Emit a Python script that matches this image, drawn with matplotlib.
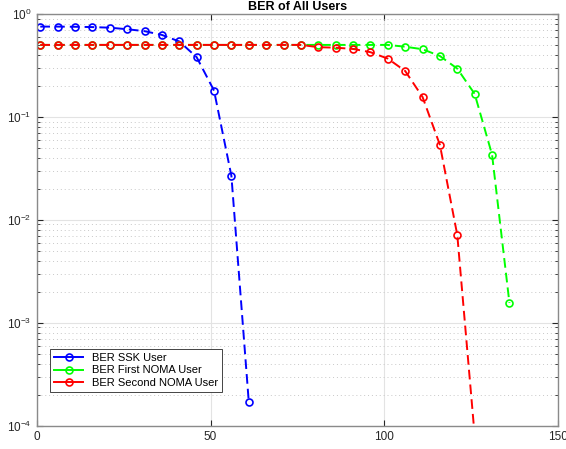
import numpy as np
import matplotlib.pyplot as plt
from matplotlib.ticker import LogLocator, NullFormatter, FuncFormatter

plt.rcParams['font.family'] = ['Liberation Sans', 'DejaVu Sans']

# data
snr = np.arange(1, 137, 5)

ber_ssk = [0.753, 0.753, 0.75, 0.745, 0.735, 0.71, 0.68, 0.625, 0.54, 0.38,
           0.18, 0.0267, 1.7e-4]
ber_noma1 = [0.5] * 21 + [0.48, 0.454, 0.39, 0.294, 0.167, 0.043, 0.00156]
ber_noma2 = [0.5] * 16 + [0.475, 0.47, 0.457, 0.425, 0.368, 0.279, 0.156,
                          0.0533, 0.0071, 8e-5]
labels = ['BER SSK User', 'BER First NOMA User', 'BER Second NOMA User']

fig = plt.figure(figsize=(5.66, 4.49), dpi=100)
ax = fig.add_axes([0.065, 0.052, 0.921, 0.917])

dash = (0, (5, 2.6))
kw = dict(linestyle=dash, linewidth=1.4, marker='o', markersize=5,
          markerfacecolor='none', markeredgewidth=1.2)
ax.semilogy(snr[:len(ber_ssk)], ber_ssk, color='#0000ff', label=labels[0], **kw)
ax.semilogy(snr[:len(ber_noma1)], ber_noma1, color='#00ff00', label=labels[1], **kw)
ax.semilogy(snr[:len(ber_noma2)], ber_noma2, color='#ff0000', label=labels[2], **kw)

ax.set_xlim(0, 150)
ax.set_ylim(1e-4, 1)
ax.set_xticks([0, 50, 100, 150])
ax.yaxis.set_minor_locator(LogLocator(base=10, subs=np.arange(2, 10), numticks=20))
ax.yaxis.set_minor_formatter(NullFormatter())
ax.yaxis.set_major_formatter(FuncFormatter(
    lambda v, p: r'$\mathregular{10^{%d}}$' % round(np.log10(v))))

ax.grid(True, which='major', color='#e3e3e3', linestyle='-', linewidth=0.8)
ax.grid(True, which='minor', axis='y', color='#c8c8c8', linestyle=(0, (1, 3)), linewidth=0.7)
ax.set_axisbelow(True)

ax.tick_params(which='both', direction='in', top=True, right=True,
               labelsize=8.5, colors='#262626', pad=4)
ax.tick_params(which='major', length=4)
ax.tick_params(which='minor', length=2)
for s in ax.spines.values():
    s.set_color('#8a8a8a')
    s.set_linewidth(1.0)

ax.set_title('BER of All Users', fontsize=9, fontweight='bold', pad=3)

leg = ax.legend(loc='lower left', bbox_to_anchor=(0.014, 0.068), fontsize=8,
                fancybox=False, framealpha=1, edgecolor='#262626',
                handlelength=2.6, borderpad=0.4, labelspacing=0.2)
leg.get_frame().set_linewidth(0.6)
for h in leg.get_lines():
    h.set_linestyle('-')

fig.savefig('out.png', dpi=100)
